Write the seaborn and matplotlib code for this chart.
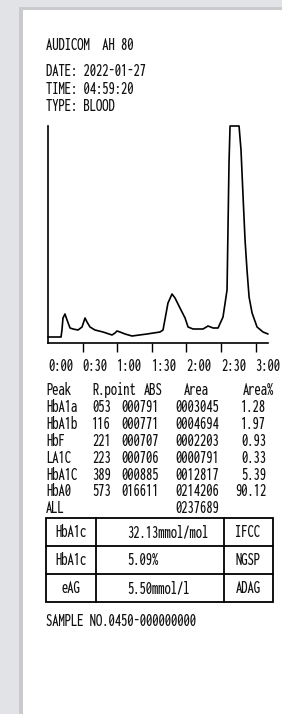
import numpy as np
import pandas as pd
import matplotlib
matplotlib.use('Agg')
import matplotlib.pyplot as plt
import seaborn as sns
from matplotlib.patches import Rectangle
from matplotlib import font_manager
from matplotlib.font_manager import FontProperties

# chromatogram trace (time in s, detector signal in arbitrary units)
time_s = [0, 11.3, 12.1, 13.0, 14.7, 16.5, 19.1, 21.7, 26.0, 29.5, 32.1, 33.8, 36.4, 40.7,
          47.7, 55.5, 58.1, 59.8, 62.4, 66.8, 72.8, 85.8, 97.1, 99.7, 104.0, 107.5, 110.1,
          114.4, 118.8, 121.4, 125.7, 134.4, 138.7, 143.1, 147.4, 151.7, 155.2, 156.0, 156.9,
          157.8, 165.6, 167.3, 169.1, 170.8, 172.5, 174.3, 176.9, 181.2, 186.4, 190.7]
signal = [6, 6, 13, 25, 29, 23, 15, 14, 13, 16, 25, 21, 16, 13,
          11, 8, 10, 12, 11, 9, 7, 9, 11, 13, 40, 49, 45,
          35, 25, 16, 14, 14, 17, 15, 15, 26, 53, 113, 180,
          217, 217, 193, 146, 103, 73, 46, 30, 16, 11, 9]

tick_times = [0, 30, 60, 90, 120, 150, 180]
tick_labels = ['0:00', '0:30', '1:00', '1:30', '2:00', '2:30', '3:00']

header = ['AUDICOM  AH 80', 'DATE: 2022-01-27', 'TIME: 04:59:20', 'TYPE: BLOOD']

peaks = ['HbA1a', 'HbA1b', 'HbF', 'LA1C', 'HbA1C', 'HbA0']
rpoint = ['053', '116', '221', '223', '389', '573']
abs_vals = ['000791', '000771', '000707', '000706', '000885', '016611']
areas = ['0003045', '0004694', '0002203', '0000791', '0012817', '0214206']
area_pct = ['1.28', '1.97', '0.93', '0.33', '5.39', '90.12']
area_all = '0237689'

result_names = ['HbA1c', 'HbA1c', 'eAG']
result_vals = ['32.13mmol/mol', '5.09%', '5.50mmol/l']
result_units = ['IFCC', 'NGSP', 'ADAG']

sample_no = 'SAMPLE NO.0450-000000000'

sns.set_style('white')

# narrow monospaced face to mimic the thermal printer; fall back to DejaVu
fp = None
files = {f.fname.split('/')[-1]: f.fname for f in font_manager.fontManager.ttflist}
for name, size in [('Inconsolata-ExtraCondensedMedium.ttf', 13),
                   ('Inconsolata-ExtraCondensed.ttf', 13),
                   ('Inconsolata-CondensedMedium.ttf', 11.5),
                   ('Inconsolata-Condensed.ttf', 11.5)]:
    if name in files:
        fp = FontProperties(fname=files[name], size=size)
        break
if fp is None:
    fp = FontProperties(family='DejaVu Sans', stretch='condensed', size=9)

W, H = 282, 714
ink = '#111111'

def px(x, y):
    return x / W, 1 - y / H

def put(x, y, s, ha='left'):
    fig.text(*px(x, y), s, ha=ha, va='center', fontproperties=fp, color=ink)

fig = plt.figure(figsize=(W / 100, H / 100), dpi=100)
fig.patch.set_facecolor('#e2e3e7')
fig.add_artist(Rectangle(px(19, 714), 1, 1 - 7 / H, transform=fig.transFigure,
                         facecolor='#c9cacd', edgecolor='none', zorder=-3))
fig.add_artist(Rectangle(px(23, 714), 1, 1 - 10 / H, transform=fig.transFigure,
                         facecolor='white', edgecolor='none', zorder=-2))

# header
put(46, 45, header[0])
for i, s in enumerate(header[1:]):
    put(46, 71 + i * 17.5, s)

# chromatogram
ax = fig.add_axes([48 / W, 1 - 343 / H, 220 / W, 217 / H])
ax.set_facecolor('none')
df = pd.DataFrame({'t': time_s, 'v': signal})
sns.lineplot(data=df, x='t', y='v', ax=ax, color='black', lw=1.2)
for ln in ax.lines:
    ln.set_clip_on(False)
ax.set_xlim(0, 190.7)
ax.set_ylim(0, 217)
ax.set_yticks([])
ax.set_xlabel('')
ax.set_ylabel('')
ax.set_xticks(tick_times)
ax.set_xticklabels(tick_labels, ha='left', fontproperties=fp, color=ink)
ax.tick_params(axis='x', direction='out', length=6.5, width=1, color='black', pad=4, bottom=True)
ax.xaxis.get_major_ticks()[0].tick1line.set_visible(False)
sns.despine(ax=ax)
for sp in ['left', 'bottom']:
    ax.spines[sp].set_color('black')
    ax.spines[sp].set_linewidth(1.2)

# peak table
y0 = 390
put(46, y0, 'Peak')
put(92, y0, 'R.point')
put(144, y0, 'ABS')
put(184, y0, 'Area')
put(243, y0, 'Area%')
for i in range(len(peaks)):
    y = y0 + 16.9 * (i + 1)
    put(46, y, peaks[i])
    put(92, y, rpoint[i])
    put(159, y, abs_vals[i], ha='right')
    put(219, y, areas[i], ha='right')
    put(266, y, area_pct[i], ha='right')
y_all = y0 + 16.9 * (len(peaks) + 1)
put(46, y_all, 'ALL')
put(219, y_all, area_all, ha='right')

# result box
bx0, bx1, by0, by1 = 46, 273, 518, 602
lw = 1.3
fig.add_artist(Rectangle(px(bx0, by1), (bx1 - bx0) / W, (by1 - by0) / H,
                         transform=fig.transFigure, fill=False, edgecolor='black', lw=lw))
row_h = (by1 - by0) / 3
for k in [1, 2]:
    fig.add_artist(plt.Line2D([bx0 / W, bx1 / W], [1 - (by0 + k * row_h) / H] * 2,
                              transform=fig.transFigure, color='black', lw=lw))
for xd in [96, 224]:
    fig.add_artist(plt.Line2D([xd / W] * 2, [1 - by0 / H, 1 - by1 / H],
                              transform=fig.transFigure, color='black', lw=lw))
for i in range(3):
    yc = by0 + row_h * (i + 0.5)
    put(71, yc, result_names[i], ha='center')
    put(127, yc, result_vals[i])
    put(248, yc, result_units[i], ha='center')

put(46, 621, sample_no)

fig.savefig('out.png', dpi=100, facecolor=fig.get_facecolor())
